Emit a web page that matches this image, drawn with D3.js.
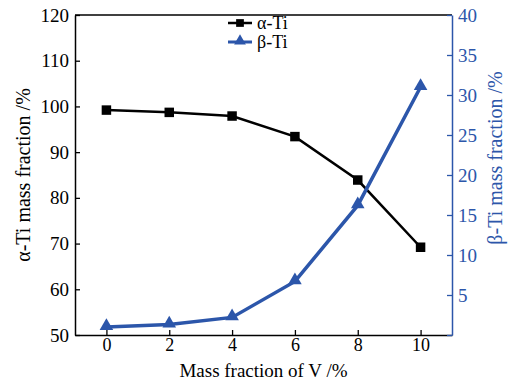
<!DOCTYPE html>
<html>
<head>
<meta charset="utf-8">
<script src="https://cdn.jsdelivr.net/npm/d3@7"></script>
<style>
  body { margin: 0; background: #fff; }
  text { font-family: "Liberation Serif", "DejaVu Serif", serif; }
</style>
</head>
<body>
<div id="chart"></div>
<script>
// data
const vFraction = [0, 2, 4, 6, 8, 10];
const alphaTi = [99.2, 98.7, 97.9, 93.4, 83.9, 69.2];
const betaTi = [1.0, 1.3, 2.2, 6.7, 16.2, 31.0];
const xTicks = [0, 2, 4, 6, 8, 10];
const leftTicks = [50, 60, 70, 80, 90, 100, 110, 120];
const rightTicks = [0, 5, 10, 15, 20, 25, 30, 35, 40];

const W = 509, H = 382;
const margin = { top: 15, right: 57, bottom: 47, left: 75 },
  width = W - margin.left - margin.right,
  height = H - margin.top - margin.bottom;

const blue = '#2c56aa';

const x = d3.scaleLinear().domain([-1, 11]).range([0, width]);
const yL = d3.scaleLinear().domain([50, 120]).range([height, 0]);
const yR = d3.scaleLinear().domain([0, 40]).range([height, 0]);

const svg = d3.select('#chart')
  .append('svg')
  .attr('width', W)
  .attr('height', H);

const g = svg.append('g')
  .attr('transform', 'translate(' + margin.left + ',' + margin.top + ')');

// top frame line
g.append('line')
  .attr('x1', 0).attr('x2', width).attr('y1', 0).attr('y2', 0)
  .attr('stroke', '#000').attr('stroke-width', 1.5);

// Add the X Axis (ticks pointing inward)
const xAxis = g.append('g')
  .attr('transform', 'translate(0,' + height + ')')
  .call(d3.axisBottom(x).tickValues(xTicks).tickSizeInner(-5).tickSizeOuter(0).tickPadding(3));

// Add the left Y Axis
const yAxisL = g.append('g')
  .call(d3.axisLeft(yL).tickValues(leftTicks).tickSizeInner(-5).tickSizeOuter(0).tickPadding(6));

// Add the right Y Axis
const yAxisR = g.append('g')
  .attr('transform', 'translate(' + width + ',0)')
  .call(d3.axisRight(yR).tickValues(rightTicks).tickSizeInner(-5).tickSizeOuter(0).tickPadding(6)
    .tickFormat(d => d === 0 ? '' : d));

[xAxis, yAxisL].forEach(a => {
  a.select('.domain').attr('stroke', '#000').attr('stroke-width', 1.5);
  a.selectAll('.tick line').attr('stroke', '#000').attr('stroke-width', 1.3);
  a.selectAll('.tick text').attr('fill', '#000').style('font-size', '19px')
    .style('font-family', '"Liberation Serif", serif');
});
xAxis.selectAll('.tick text').style('font-size', '18px');
yAxisR.select('.domain').attr('stroke', blue).attr('stroke-width', 1.5);
yAxisR.selectAll('.tick line').attr('stroke', blue).attr('stroke-width', 1.3);
yAxisR.selectAll('.tick text').attr('fill', blue).style('font-size', '19px')
  .style('font-family', '"Liberation Serif", serif');

// lines
const lineA = d3.line().x((d, i) => x(vFraction[i])).y(d => yL(d));
const lineB = d3.line().x((d, i) => x(vFraction[i])).y(d => yR(d));

g.append('path')
  .datum(alphaTi)
  .attr('fill', 'none')
  .attr('stroke', '#000')
  .attr('stroke-width', 2.5)
  .attr('d', lineA);

g.append('path')
  .datum(betaTi)
  .attr('fill', 'none')
  .attr('stroke', blue)
  .attr('stroke-width', 3.5)
  .attr('d', lineB);

const sq = d3.symbol().type(d3.symbolSquare).size(90);
const tri = d3.symbol().type(d3.symbolTriangle).size(80);

g.selectAll('.ma')
  .data(alphaTi)
  .enter().append('path')
  .attr('class', 'ma')
  .attr('d', sq)
  .attr('fill', '#000')
  .attr('transform', (d, i) => 'translate(' + x(vFraction[i]) + ',' + yL(d) + ')');

g.selectAll('.mb')
  .data(betaTi)
  .enter().append('path')
  .attr('class', 'mb')
  .attr('d', tri)
  .attr('fill', blue)
  .attr('transform', (d, i) => 'translate(' + x(vFraction[i]) + ',' + (yR(d) - 1) + ')');

// legend
const legend = [
  { name: 'α-Ti', color: '#000', sym: d3.symbol().type(d3.symbolSquare).size(60), w: 2.5 },
  { name: 'β-Ti', color: blue, sym: d3.symbol().type(d3.symbolTriangle).size(60), w: 3 }
];
const lg = svg.append('g').attr('transform', 'translate(228,23)');
legend.forEach((d, i) => {
  const row = lg.append('g').attr('transform', 'translate(0,' + (i * 19) + ')');
  row.append('line').attr('x1', 0).attr('x2', 24).attr('y1', 0).attr('y2', 0)
    .attr('stroke', d.color).attr('stroke-width', d.w);
  row.append('path').attr('d', d.sym).attr('fill', d.color)
    .attr('transform', 'translate(12,' + (i === 1 ? -1 : 0) + ')');
  row.append('text').attr('x', 29).attr('y', 6)
    .style('font-size', '18px').attr('fill', '#000').text(d.name);
});

// axis titles
svg.append('text')
  .attr('x', margin.left + width / 2).attr('y', 377)
  .attr('text-anchor', 'middle').style('font-size', '19px')
  .text('Mass fraction of V /%');

svg.append('text')
  .attr('transform', 'translate(30,175) rotate(-90)')
  .attr('text-anchor', 'middle').style('font-size', '20px')
  .text('α-Ti mass fraction /%');

svg.append('text')
  .attr('transform', 'translate(502,158) rotate(-90)')
  .attr('text-anchor', 'middle').style('font-size', '20px')
  .attr('fill', blue)
  .text('β-Ti mass fraction /%');
</script>
</body>
</html>
